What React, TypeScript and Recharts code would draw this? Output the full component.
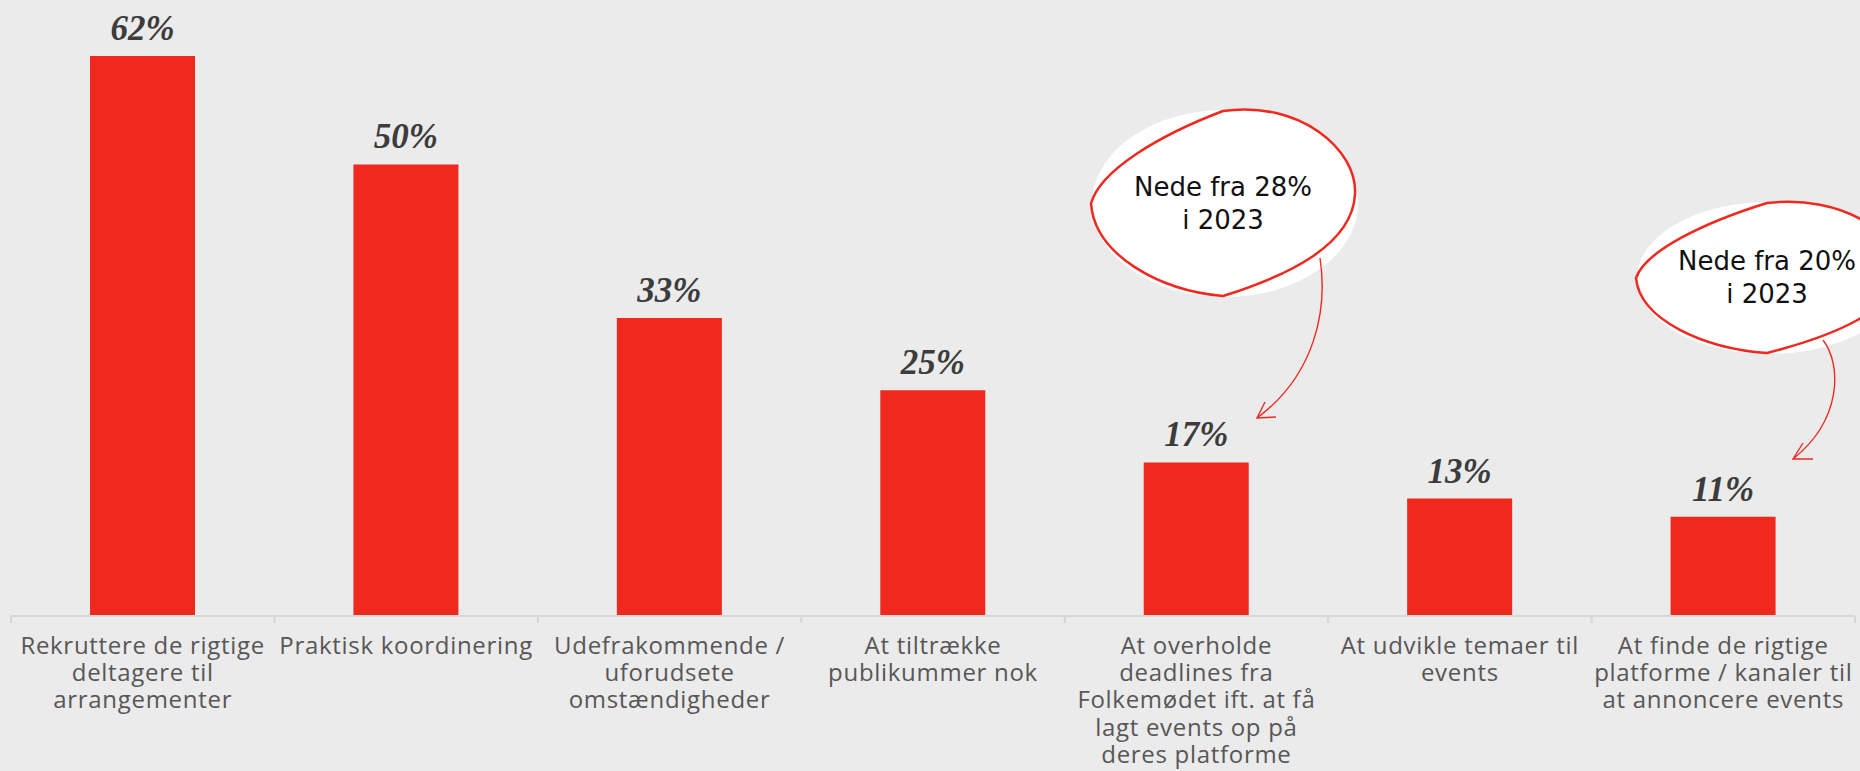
import { Bar, BarChart, LabelList, XAxis, YAxis } from "recharts"

const categories = [
  "Rekruttere de rigtige deltagere til arrangementer",
  "Praktisk koordinering",
  "Udefrakommende / uforudsete omstændigheder",
  "At tiltrække publikummer nok",
  "At overholde deadlines fra Folkemødet ift. at få lagt events op på deres platforme",
  "At udvikle temaer til events",
  "At finde de rigtige platforme / kanaler til at annoncere events",
]

const values = [62, 50, 33, 25, 17, 13, 11]

// wrapped tick labels, one list of lines per category
const tickLines = [
  ["Rekruttere de rigtige", "deltagere til", "arrangementer"],
  ["Praktisk koordinering"],
  ["Udefrakommende /", "uforudsete", "omstændigheder"],
  ["At tiltrække", "publikummer nok"],
  ["At overholde", "deadlines fra", "Folkemødet ift. at få", "lagt events op på", "deres platforme"],
  ["At udvikle temaer til", "events"],
  ["At finde de rigtige", "platforme / kanaler til", "at annoncere events"],
]

const notes = [
  { lines: ["Nede fra 28%", "i 2023"], cx: 1223, top: 111, w: 132, h: 185, y0: 196 },
  { lines: ["Nede fra 20%", "i 2023"], cx: 1767, top: 203, w: 131, h: 150, y0: 270 },
]

const data = categories.map((name, i) => ({ name, value: values[i] }))

const W = 1860
const H = 771
const LEFT = 11
const RIGHT = 5
const BAND = (W - LEFT - RIGHT) / categories.length
const RED = "#F0291F"
const BG = "#EBEBEB"

const CategoryTick = (props: any) => {
  const { x, y, index } = props
  const lines = tickLines[index] || []
  return (
    <g>
      <line x1={x - BAND / 2} x2={x - BAND / 2} y1={y} y2={y + 7} stroke="#d6d6d6" strokeWidth={2} />
      {index === categories.length - 1 && (
        <line x1={x + BAND / 2} x2={x + BAND / 2} y1={y} y2={y + 7} stroke="#d6d6d6" strokeWidth={2} />
      )}
      <text
        x={x}
        y={y + 38}
        textAnchor="middle"
        fill="#575757"
        fontFamily="'Open Sans', sans-serif"
        fontSize={24}
        letterSpacing={0.7}
      >
        {lines.map((l, i) => (
          <tspan key={i} x={x} dy={i === 0 ? 0 : 27.2}>{l}</tspan>
        ))}
      </text>
    </g>
  )
}

function bubblePath(cx: number, top: number, w: number, h: number) {
  const px = (f: number) => cx + f * w
  const py = (f: number) => top + f * h
  return [
    `M${px(-1)},${py(0.5)}`,
    `C${px(-0.93)},${py(0.32)} ${px(-0.48)},${py(0.13)} ${cx},${top}`,
    `C${px(0.58)},${py(-0.06)} ${px(1.02)},${py(0.21)} ${px(1)},${py(0.45)}`,
    `C${px(0.98)},${py(0.72)} ${px(0.51)},${py(0.886)} ${cx},${top + h}`,
    `C${px(-0.48)},${py(0.97)} ${px(-0.97)},${py(0.78)} ${px(-1)},${py(0.5)}`,
    "Z",
  ].join(" ")
}

export default function App() {
  return (
    <div style={{ position: "relative", width: W, height: H, background: BG, overflow: "hidden" }}>
      <style>{"body{margin:0}"}</style>
      <BarChart width={W} height={H} data={data} margin={{ top: 56, right: RIGHT, bottom: 0, left: LEFT }}>
        <XAxis
          dataKey="name"
          height={155}
          interval={0}
          tickSize={0}
          tickMargin={0}
          tickLine={false}
          axisLine={{ stroke: "#d6d6d6", strokeWidth: 2 }}
          tick={<CategoryTick />}
        />
        <YAxis hide domain={[0, 62]} />
        <Bar dataKey="value" fill={RED} barSize={105} isAnimationActive={false}>
          <LabelList
            dataKey="value"
            position="top"
            offset={16}
            formatter={(v: any) => `${v}%`}
            fill="#3c3c3c"
            fontFamily="'Liberation Serif', serif"
            fontStyle="italic"
            fontWeight="bold"
            fontSize={35}
          />
        </Bar>
      </BarChart>
      <svg width={W} height={H} style={{ position: "absolute", left: 0, top: 0, pointerEvents: "none" }}>
        {notes.map((n, i) => (
          <g key={i}>
            <ellipse cx={n.cx + 2} cy={n.top + n.h / 2} rx={n.w + 1} ry={n.h / 2 + 1} fill="#fff" />
            <path d={bubblePath(n.cx, n.top, n.w, n.h)} fill="#fff" stroke={RED} strokeWidth={2.5} />
            <text textAnchor="middle" fontFamily="'DejaVu Sans', sans-serif" fontSize={26} fill="#111">
              {n.lines.map((l, j) => (
                <tspan key={j} x={n.cx} y={n.y0 + j * 33}>{l}</tspan>
              ))}
            </text>
          </g>
        ))}
        <path d="M1320,258 C1328,310 1315,375 1257,418" fill="none" stroke={RED} strokeWidth={1.4} />
        <path d="M1265,402 L1257,418 L1276,417" fill="none" stroke={RED} strokeWidth={1.4} />
        <path d="M1823,340 C1842,365 1842,420 1793,459" fill="none" stroke={RED} strokeWidth={1.4} />
        <path d="M1803,443 L1793,459 L1813,459" fill="none" stroke={RED} strokeWidth={1.4} />
      </svg>
    </div>
  )
}
